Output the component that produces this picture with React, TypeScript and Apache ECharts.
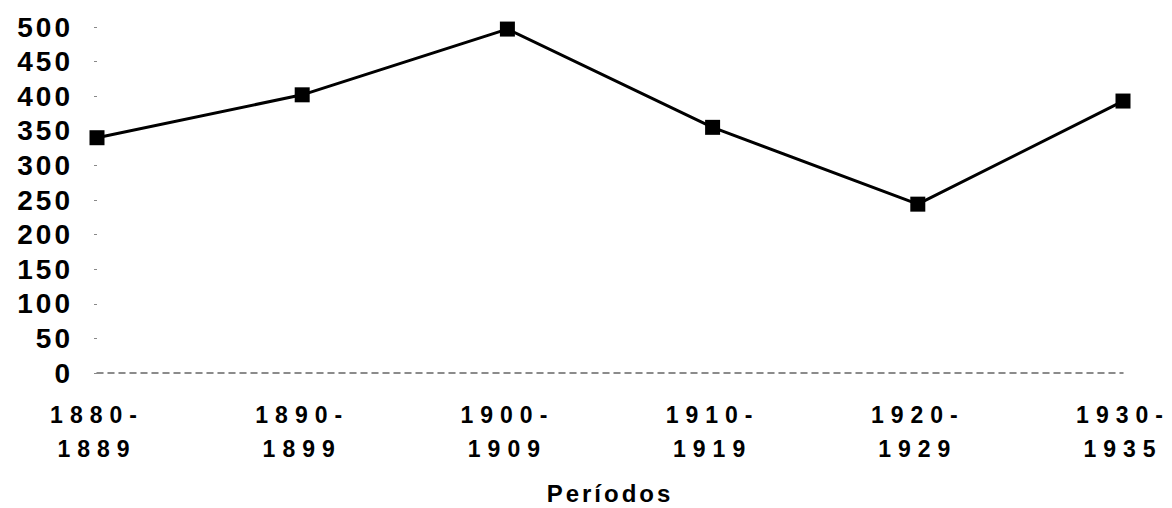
import React, { useEffect, useRef } from "react";
import * as echarts from "echarts";

const categories = ["1880-\n1889", "1890-\n1899", "1900-\n1909", "1910-\n1919", "1920-\n1929", "1930-\n1935"];
const values = [340, 402, 497, 355, 244, 393];
const xName = "Períodos";

export default function App() {
  const ref = useRef<HTMLDivElement>(null);
  useEffect(() => {
    if (!ref.current) return;
    const chart = echarts.init(ref.current, undefined, { renderer: "svg" });
    chart.setOption({
      animation: false,
      backgroundColor: "#ffffff",
      grid: { left: 97, right: 49, top: 27, bottom: 135, containLabel: false, outerBoundsMode: "none" },
      xAxis: {
        type: "category",
        data: categories,
        boundaryGap: false,
        axisLine: { show: true, lineStyle: { color: "#666", width: 1.5, type: [6, 5] } },
        axisTick: { show: false },
        splitLine: { show: false },
        axisLabel: {
          color: "#000",
          fontFamily: "Liberation Sans",
          fontWeight: "bold",
          fontSize: 23,
          lineHeight: 34,
          margin: 25,
          interval: 0,
        },
        name: xName,
        nameLocation: "middle",
        nameGap: 108,
        nameTextStyle: { color: "#000", fontFamily: "Liberation Sans", fontWeight: "bold", fontSize: 24, verticalAlign: "top" },
      },
      yAxis: {
        type: "value",
        min: 0,
        max: 500,
        interval: 50,
        axisLine: { show: false },
        axisTick: { show: true, length: 3, lineStyle: { color: "#888", width: 1 } },
        splitLine: { show: false },
        axisLabel: {
          color: "#000",
          fontFamily: "Liberation Sans",
          fontWeight: "bold",
          fontSize: 28,
          margin: 24,
        },
      },
      series: [
        {
          type: "line",
          data: values,
          symbol: "rect",
          symbolSize: 15,
          itemStyle: { color: "#000" },
          lineStyle: { color: "#000", width: 3 },
        },
      ],
    });
    return () => chart.dispose();
  }, []);
  return (
    <>
      <style>{`
        body { margin: 0; }
        text[style*="28px"] { letter-spacing: 3px; }
        text[style*="23px"] { letter-spacing: 7px; }
        text[style*="24px"] { letter-spacing: 3px; }
      `}</style>
      <div ref={ref} style={{ width: 1172, height: 508 }} />
    </>
  );
}
